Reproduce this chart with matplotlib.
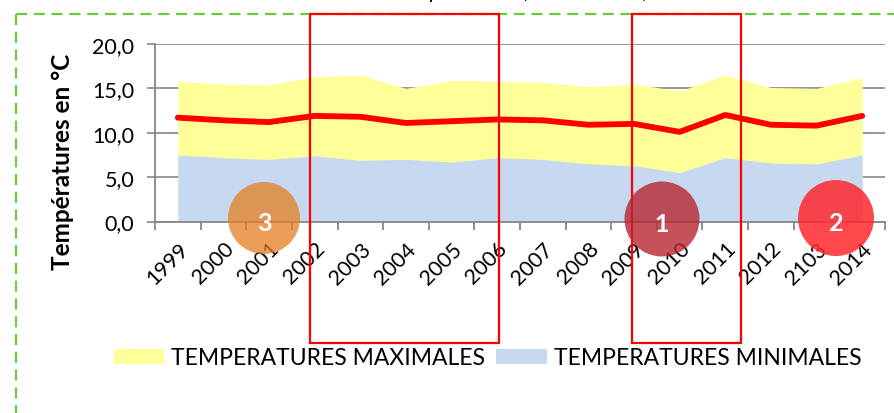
import numpy as np
import matplotlib.pyplot as plt
from matplotlib.patches import Circle, Rectangle
from matplotlib.lines import Line2D

plt.rcParams['font.family'] = ['Lato', 'DejaVu Sans']

annees = ['1999', '2000', '2001', '2002', '2003', '2004', '2005', '2006',
          '2007', '2008', '2009', '2010', '2011', '2012', '2103', '2014']
t_max = [15.8, 15.5, 15.4, 16.3, 16.5, 15.0, 15.9, 15.8,
         15.7, 15.2, 15.5, 14.7, 16.5, 15.1, 15.0, 16.2]
t_moy = [11.7, 11.4, 11.2, 11.9, 11.8, 11.1, 11.3, 11.5,
         11.4, 10.9, 11.0, 10.1, 12.0, 10.9, 10.8, 11.9]
t_min = [7.5, 7.2, 7.0, 7.4, 6.9, 7.0, 6.7, 7.2,
         7.0, 6.5, 6.3, 5.5, 7.2, 6.6, 6.5, 7.5]

W, H = 895, 414
fig = plt.figure(figsize=(W / 100, H / 100), dpi=100)
ax = fig.add_axes([155 / W, 1 - 222.5 / H, 730 / W, 177.5 / H])

x = np.arange(len(annees))
ax.fill_between(x, 0, t_max, color='#FFFF99', lw=0, label='TEMPERATURES MAXIMALES')
ax.fill_between(x, 0, t_min, color='#C6D9F0', lw=0, label='TEMPERATURES MINIMALES')
ax.plot(x, t_moy, color='#FF0000', lw=4.2, solid_capstyle='round', zorder=3)

gris = '#868686'
ax.set_xlim(-0.5, len(annees) - 0.5)
ax.set_ylim(0, 20)
ax.set_yticks(np.arange(0, 21, 5))
ax.set_yticklabels([f'{v:.1f}'.replace('.', ',') for v in np.arange(0, 21, 5)], fontsize=15.5)
ax.yaxis.grid(True, color=gris, lw=1.2)
ax.set_axisbelow(True)
for s in ['top', 'right']:
    ax.spines[s].set_visible(False)
for s in ['left', 'bottom']:
    ax.spines[s].set_color(gris)
    ax.spines[s].set_linewidth(1.3)
ax.tick_params(axis='y', length=6, color=gris, width=1.2, pad=9)

# graduations entre les années, étiquettes au centre
ax.set_xticks(np.arange(-0.5, len(annees)))
ax.set_xticklabels([])
ax.set_xticks(x, minor=True)
ax.set_xticklabels(annees, minor=True, rotation=45, ha='right',
                   rotation_mode='anchor', fontsize=15.5)
ax.tick_params(axis='x', which='major', length=6, color=gris, width=1.3)
ax.tick_params(axis='x', which='minor', length=0, pad=12)

ax.set_ylabel('Températures en °C', fontsize=17.5, fontweight='bold', va='center')
ax.yaxis.set_label_coords(-92 / 730, 0.34)

leg = fig.legend(loc='center left', bbox_to_anchor=(93 / W, 1 - 359 / H),
                 ncol=2, frameon=False, fontsize=16.5, handlelength=2.2,
                 handleheight=0.65, columnspacing=0.5, handletextpad=0.3)

# titre coupé en haut
fig.text(388 / W, 1 + 2 / H, 'Températures (1999 - 2014)', fontsize=15,
         va='baseline', ha='left')


def px(xp, yp):
    return (xp / 100, (H - yp) / 100)


# cadre pointillé vert
vert = '#6CCB3A'
fig.add_artist(Line2D([16 / W, 16 / W], [1 - 15 / H, -0.05], color=vert, lw=1.6,
                      ls=(0, (5, 3)), transform=fig.transFigure))
fig.add_artist(Line2D([16 / W, 1.02], [1 - 15 / H, 1 - 15 / H], color=vert, lw=1.6,
                      ls=(0, (5, 3)), transform=fig.transFigure))

# encadrés rouges
for x0, x1 in [(310, 499), (632, 741)]:
    fig.add_artist(Rectangle(px(x0, 344), (x1 - x0) / 100, (344 - 15) / 100,
                             fill=False, ec='#FF0000', lw=1.6,
                             transform=fig.dpi_scale_trans, zorder=10))

# pastilles numérotées
pastilles = [(264, 219, 36, '#E67E22', 0.75, '3'),
             (662, 220, 37.5, '#B8262E', 0.8, '1'),
             (836, 219, 38, '#FF282D', 0.85, '2')]
for cx, cy, r, c, a, n in pastilles:
    fig.add_artist(Circle(px(cx, cy), r / 100, color=c, alpha=a, lw=0,
                          transform=fig.dpi_scale_trans, zorder=11))
    fig.text(cx / W, 1 - (cy + 5) / H, n, color='white', fontsize=18,
             fontweight='bold', ha='center', va='center', zorder=12)

fig.savefig('out.png', dpi=100)
